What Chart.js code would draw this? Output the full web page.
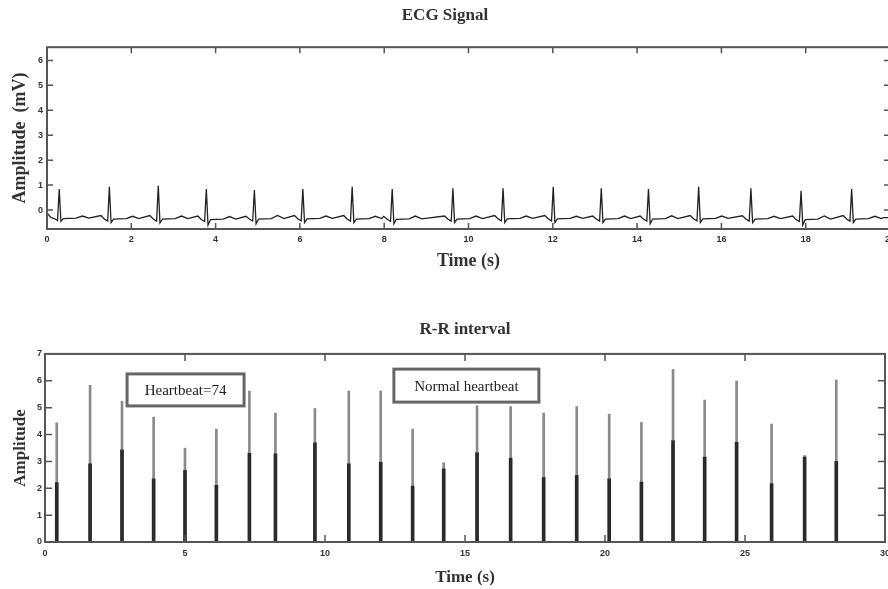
<!DOCTYPE html>
<html>
<head>
<meta charset="utf-8">
<script src="https://cdn.jsdelivr.net/npm/chart.js@4.4.1/dist/chart.umd.min.js"></script>
<style>
  html, body { margin: 0; padding: 0; background: #fff; overflow: hidden; width: 888px; height: 589px; }
  #ecg { position: absolute; left: 0; top: 0; }
  #rr { position: absolute; left: 0; top: 290px; }
</style>
</head>
<body>
<canvas id="ecg" width="900" height="290"></canvas>
<canvas id="rr" width="888" height="299"></canvas>
<script>
// ---- ECG signal ----
const beatTimes = [0.29, 1.48, 2.64, 3.78, 4.92, 6.07, 7.24, 8.19, 9.63, 10.82, 12.01, 13.15, 14.27, 15.46, 16.70, 17.89, 19.09];
const rPeaks    = [0.84, 0.93, 0.97, 0.84, 0.80, 0.84, 0.93, 0.84, 0.87, 0.87, 0.93, 0.87, 0.84, 0.93, 0.87, 0.77, 0.84];
const sDips     = [-0.45, -0.50, -0.52, -0.60, -0.55, -0.50, -0.50, -0.55, -0.50, -0.50, -0.50, -0.50, -0.55, -0.50, -0.50, -0.60, -0.50];
const tWaves    = [-0.24, -0.25, -0.24, -0.26, -0.22, -0.24, -0.25, -0.24, -0.24, -0.24, -0.25, -0.24, -0.23, -0.24, -0.25, -0.24, -0.25];
const pWaves    = [-0.30, -0.22, -0.22, -0.24, -0.25, -0.22, -0.22, -0.25, -0.24, -0.22, -0.22, -0.24, -0.24, -0.22, -0.23, -0.24, -0.22];
const baseLevel = [-0.34, -0.36, -0.36, -0.38, -0.36, -0.35, -0.36, -0.37, -0.36, -0.35, -0.35, -0.36, -0.36, -0.35, -0.36, -0.38, -0.36];
const ecgStart  = [{ x: 0, y: -0.12 }];
const ecgEnd    = [{ x: 19.85, y: -0.30 }, { x: 20, y: -0.30 }];
const ecgXTicks = [0, 2, 4, 6, 8, 10, 12, 14, 16, 18, 20];
const ecgYTicks = [0, 1, 2, 3, 4, 5, 6];

// ---- R-R interval ----
const rrTimes = [0.42, 1.61, 2.75, 3.88, 5.0, 6.12, 7.3, 8.23, 9.64, 10.85, 11.99, 13.13, 14.24, 15.43, 16.63, 17.81, 18.99, 20.15, 21.3, 22.43, 23.56, 24.7, 25.95, 27.13, 28.26];
const rrOuter = [4.43, 5.83, 5.24, 4.65, 3.49, 4.2, 5.62, 4.8, 4.97, 5.62, 5.62, 4.2, 2.95, 5.07, 5.04, 4.8, 5.04, 4.76, 4.45, 6.42, 5.28, 5.99, 4.39, 3.22, 6.03];
const rrInner = [2.21, 2.91, 3.43, 2.35, 2.66, 2.11, 3.3, 3.28, 3.69, 2.91, 2.97, 2.08, 2.72, 3.32, 3.12, 2.4, 2.48, 2.35, 2.23, 3.77, 3.16, 3.71, 2.17, 3.16, 3.0];
const rrXTicks = [0, 5, 10, 15, 20, 25, 30];
const rrYTicks = [0, 1, 2, 3, 4, 5, 6, 7];
const rrNotes = [
  { text: 'Heartbeat=74', x: 5.02, y: 5.66, w: 117, h: 32 },
  { text: 'Normal heartbeat', x: 15.05, y: 5.82, w: 145, h: 33 }
];

// build the ECG trace: each beat from its read levels
const ecgPoints = [...ecgStart];
beatTimes.forEach((t, i) => {
  const b = baseLevel[i];
  ecgPoints.push(
    { x: t - 0.2, y: pWaves[i] },
    { x: t - 0.12, y: b },
    { x: t - 0.04, y: b - 0.08 },
    { x: t, y: rPeaks[i] },
    { x: t + 0.04, y: sDips[i] },
    { x: t + 0.1, y: b },
    { x: t + 0.4, y: b + 0.02 },
    { x: t + 0.55, y: tWaves[i] },
    { x: t + 0.7, y: b + 0.02 }
  );
});
ecgPoints.push(...ecgEnd);

const serif = "'Liberation Serif', 'Times New Roman', serif";
const sans = "'Liberation Sans', Arial, sans-serif";

// frame box and inward ticks like the original figure
const frameTicks = {
  id: 'frameTicks',
  afterDatasetsDraw(chart, args, opts) {
    const { ctx, chartArea: a, scales: { x, y } } = chart;
    const len = opts.len || 6;
    ctx.save();
    ctx.strokeStyle = '#555';
    ctx.lineWidth = 1.5;
    ctx.beginPath();
    x.ticks.forEach(t => {
      const px = x.getPixelForValue(t.value);
      if (px <= a.left + 1 || px >= a.right - 1) return;
      ctx.moveTo(px, a.bottom); ctx.lineTo(px, a.bottom - len);
      ctx.moveTo(px, a.top); ctx.lineTo(px, a.top + len);
    });
    y.ticks.forEach(t => {
      const py = y.getPixelForValue(t.value);
      if (py <= a.top + 1 || py >= a.bottom - 1) return;
      ctx.moveTo(a.left, py); ctx.lineTo(a.left + len, py);
      ctx.moveTo(a.right, py); ctx.lineTo(a.right - len, py);
    });
    ctx.stroke();
    ctx.lineWidth = 2;
    ctx.strokeRect(a.left, a.top, a.right - a.left, a.bottom - a.top);
    ctx.restore();
  }
};

// text boxes of the R-R panel
const noteBoxes = {
  id: 'noteBoxes',
  afterDraw(chart) {
    const { ctx, scales: { x, y } } = chart;
    ctx.save();
    rrNotes.forEach(n => {
      const cx = x.getPixelForValue(n.x), cy = y.getPixelForValue(n.y);
      ctx.fillStyle = '#fff';
      ctx.fillRect(cx - n.w / 2, cy - n.h / 2, n.w, n.h);
      ctx.strokeStyle = '#666';
      ctx.lineWidth = 3;
      ctx.strokeRect(cx - n.w / 2, cy - n.h / 2, n.w, n.h);
      ctx.fillStyle = '#222';
      ctx.font = '15px ' + serif;
      ctx.textAlign = 'center';
      ctx.textBaseline = 'middle';
      ctx.fillText(n.text, cx, cy + 1);
    });
    ctx.restore();
  }
};

function axisX(ticks, min, max, height, pad, title, titleSize, titlePad) {
  return {
    type: 'linear', min, max, offset: false,
    afterBuildTicks: s => { s.ticks = ticks.map(v => ({ value: v })); },
    afterFit: s => { s.height = height; s.paddingLeft = 0; s.paddingRight = 0; },
    grid: { display: false, drawTicks: false, offset: false },
    border: { display: false },
    ticks: { padding: pad, maxRotation: 0, color: '#333', font: { family: sans, size: 9, weight: 'bold' } },
    title: { display: true, text: title, color: '#333', padding: { top: 0, bottom: titlePad }, font: { family: serif, size: titleSize, weight: 'bold' } }
  };
}

function axisY(ticks, min, max, width, pad, title, titleSize, titlePad) {
  return {
    min, max,
    afterBuildTicks: s => { s.ticks = ticks.map(v => ({ value: v })); },
    afterFit: s => { s.width = width; s.paddingTop = 0; s.paddingBottom = 0; },
    grid: { display: false, drawTicks: false },
    border: { display: false },
    ticks: { padding: pad, color: '#333', font: { family: sans, size: 9, weight: 'bold' } },
    title: { display: true, text: title, color: '#333', padding: { top: titlePad, bottom: 0 }, font: { family: serif, size: titleSize, weight: 'bold' } }
  };
}

new Chart(document.getElementById('ecg'), {
  type: 'line',
  data: {
    datasets: [{
      data: ecgPoints,
      borderColor: '#222',
      borderWidth: 1.3,
      pointRadius: 0,
      tension: 0
    }]
  },
  options: {
    responsive: false,
    animation: false,
    layout: { padding: { left: 0, right: 10, top: 0, bottom: 0 } },
    plugins: {
      legend: { display: false },
      tooltip: { enabled: false },
      title: { display: true, text: 'ECG Signal', color: '#333', padding: { top: 5.4, bottom: 21.4 }, font: { family: serif, size: 17, weight: 'bold' } },
      frameTicks: { len: 6 }
    },
    scales: {
      x: axisX(ecgXTicks, 0, 20, 61, 5, 'Time (s)', 18, 18),
      y: axisY(ecgYTicks, -0.76, 6.53, 47, 4, 'Amplitude  (mV)', 18, 10)
    }
  },
  plugins: [frameTicks]
});

new Chart(document.getElementById('rr'), {
  type: 'bar',
  data: {
    datasets: [
      {
        data: rrTimes.map((t, i) => ({ x: t, y: rrInner[i] })),
        backgroundColor: '#2a2a2a',
        barThickness: 3,
        grouped: false
      },
      {
        data: rrTimes.map((t, i) => ({ x: t, y: rrOuter[i] })),
        backgroundColor: '#8a8a8a',
        barThickness: 2,
        grouped: false
      }
    ]
  },
  options: {
    responsive: false,
    animation: false,
    layout: { padding: { left: 0, right: 3, top: 0, bottom: 0 } },
    plugins: {
      legend: { display: false },
      tooltip: { enabled: false },
      title: { display: true, fullSize: false, text: 'R-R interval', color: '#333', padding: { top: 29.4, bottom: 14.1 }, font: { family: serif, size: 17, weight: 'bold' } },
      frameTicks: { len: 7 }
    },
    scales: {
      x: axisX(rrXTicks, 0, 30, 47, 6, 'Time (s)', 17, 1.4),
      y: axisY(rrYTicks, 0, 7, 45, 3, 'Amplitude', 17, 10)
    }
  },
  plugins: [frameTicks, noteBoxes]
});
</script>
</body>
</html>
